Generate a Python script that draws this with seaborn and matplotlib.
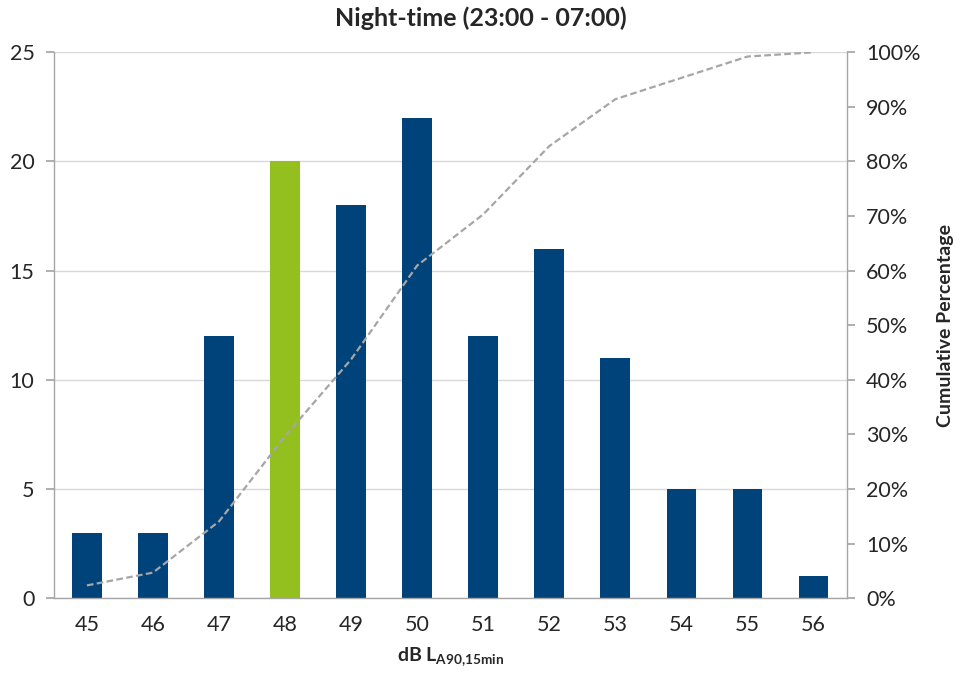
import numpy as np
import pandas as pd
import matplotlib
matplotlib.use("Agg")
import matplotlib.pyplot as plt
from matplotlib.ticker import FixedLocator, PercentFormatter
import seaborn as sns

# Noise level bins (dB LA90,15min) and counts of 15-minute periods
levels = ["45", "46", "47", "48", "49", "50", "51", "52", "53", "54", "55", "56"]
counts = [3, 3, 12, 20, 18, 22, 12, 16, 11, 5, 5, 1]
highlight = "48"

cumulative_pct = np.cumsum(counts) / np.sum(counts) * 100

sns.set_theme(style="white")
plt.rcParams["font.family"] = ["Lato", "DejaVu Sans"]
plt.rcParams["mathtext.fontset"] = "custom"
plt.rcParams["mathtext.rm"] = "Lato"
plt.rcParams["mathtext.bf"] = "Lato:bold"

df = pd.DataFrame({
    "level": levels,
    "count": counts,
    "group": ["hi" if l == highlight else "base" for l in levels],
})

fig = plt.figure(figsize=(9.62, 6.79), dpi=100)
ax = fig.add_axes([0.056, 0.119, 0.824, 0.804])

sns.barplot(data=df, x="level", y="count", hue="group",
            palette={"base": "#00427A", "hi": "#93C01F"},
            width=0.45, dodge=False, legend=False, ax=ax, saturation=1,
            linewidth=0)

ax.set_ylim(0, 25)
ax.set_xlim(-0.5, len(levels) - 0.5)
ax.set_yticks(range(0, 26, 5))
ax.yaxis.grid(True, color="#D9D9D9", linewidth=1)
ax.set_axisbelow(True)

grey = "#A6A6A6"
for side in ["left", "bottom", "right"]:
    ax.spines[side].set_color(grey)
    ax.spines[side].set_linewidth(1)
ax.spines["top"].set_visible(False)

# Tick marks sit between categories
ax.xaxis.set_minor_locator(FixedLocator(np.arange(-0.5, len(levels), 1)))
ax.tick_params(axis="x", which="major", length=0, pad=12, labelsize=15.5,
               labelcolor="#262626")
ax.tick_params(axis="x", which="minor", length=6, color=grey, direction="out")
ax.tick_params(axis="y", length=6, color=grey, direction="out", labelsize=15.5,
               labelcolor="#262626", pad=8)

ax.set_xlabel(r"dB L$_{\mathbf{A90{,}15min}}$", fontsize=14, fontweight="bold",
              color="#262626", labelpad=8)
ax.set_ylabel("")

ax2 = ax.twinx()
sns.lineplot(x=np.arange(len(levels)), y=cumulative_pct, ax=ax2,
             color="#A6A6A6", linewidth=1.6, linestyle=(0, (3, 1.5)))
ax2.set_ylim(0, 100)
ax2.set_yticks(range(0, 101, 10))
ax2.yaxis.set_major_formatter(PercentFormatter(decimals=0))
ax2.tick_params(axis="y", length=6, color=grey, direction="out", labelsize=15.5,
                labelcolor="#262626", pad=8)
for side in ["left", "bottom", "right", "top"]:
    ax2.spines[side].set_visible(False)
ax2.set_ylabel("Cumulative Percentage", fontsize=14, fontweight="bold",
               color="#262626", labelpad=12)

fig.suptitle("Night-time (23:00 - 07:00)", fontsize=18, fontweight="bold",
             color="#262626", y=0.99)

fig.savefig("out.png", dpi=100)
